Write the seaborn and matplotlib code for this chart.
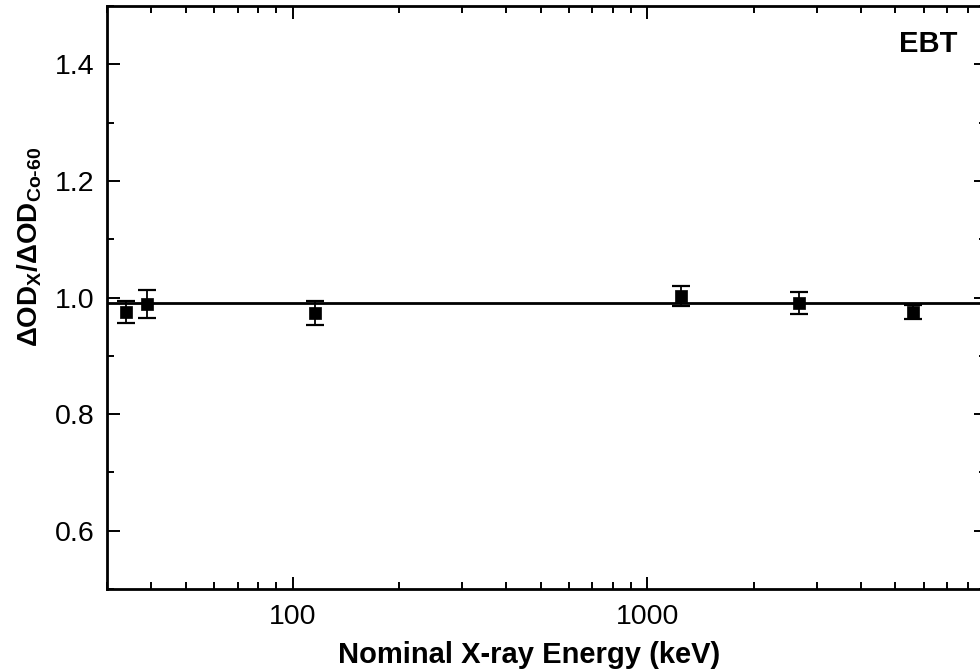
import numpy as np
import pandas as pd
import matplotlib
matplotlib.use("Agg")
import matplotlib.pyplot as plt
import matplotlib.ticker as mticker
import seaborn as sns

# Measured response of EBT film relative to Co-60
energy_kev = [34, 38.8, 116, 1242, 2670, 5600]
od_ratio = [0.975, 0.989, 0.973, 1.003, 0.990, 0.975]
od_err = [0.019, 0.024, 0.021, 0.017, 0.019, 0.012]
mean_ratio = 0.99

x_limits = (30, 9000)
y_limits = (0.5, 1.5)
y_major = [0.6, 0.8, 1.0, 1.2, 1.4]
x_major = [100, 1000]
x_major_labels = ["100", "1000"]

df = pd.DataFrame({"energy": energy_kev, "ratio": od_ratio, "err": od_err})

sns.set_theme(style="ticks")
plt.rcParams["font.family"] = ["Liberation Sans", "DejaVu Sans"]
plt.rcParams["text.color"] = "black"
plt.rcParams["mathtext.fontset"] = "custom"
plt.rcParams["mathtext.rm"] = "Liberation Sans:bold"
plt.rcParams["mathtext.it"] = "Liberation Sans:bold"
plt.rcParams["mathtext.bf"] = "Liberation Sans:bold"

fig = plt.figure(figsize=(9.8, 6.7), dpi=100)
ax = fig.add_axes([107 / 980, 81 / 670, 879 / 980, 583 / 670])

ax.set_xscale("log")
ax.axhline(mean_ratio, color="black", lw=2.0, zorder=2)
ax.errorbar(df["energy"], df["ratio"], yerr=df["err"], fmt="none",
            ecolor="black", elinewidth=1.3, capsize=6.5, capthick=1.6, zorder=3)
sns.scatterplot(data=df, x="energy", y="ratio", marker="s", s=85,
                color="black", edgecolor="black", linewidth=0.5, ax=ax, zorder=4)

ax.set_xlim(*x_limits)
ax.set_ylim(*y_limits)

ax.xaxis.set_major_locator(mticker.FixedLocator(x_major))
ax.xaxis.set_major_formatter(mticker.FixedFormatter(x_major_labels))
ax.xaxis.set_minor_locator(mticker.LogLocator(base=10, subs=np.arange(2, 10), numticks=20))
ax.xaxis.set_minor_formatter(mticker.NullFormatter())
ax.yaxis.set_major_locator(mticker.FixedLocator(y_major))
ax.yaxis.set_major_formatter(mticker.FormatStrFormatter("%.1f"))
ax.yaxis.set_minor_locator(mticker.MultipleLocator(0.1))

ax.tick_params(which="both", direction="in", top=True, right=True,
               colors="black", labelcolor="black", width=1.4)
ax.tick_params(which="major", length=9, labelsize=20.5)
ax.tick_params(axis="y", which="major", pad=9)
ax.tick_params(axis="x", which="major", pad=11)
ax.tick_params(which="minor", length=5)
for side in ax.spines.values():
    side.set_linewidth(2.0)
    side.set_color("black")

ax.set_xlabel("")
ax.set_ylabel("")
fig.text(529 / 980, 1 - 655 / 670, "Nominal X-ray Energy (keV)",
         ha="center", va="center", fontsize=21, fontweight="bold", color="black")
fig.text(30 / 980, 1 - 247 / 670,
         r"$\mathbf{\Delta OD_X/\Delta OD_{Co\text{-}60}}$",
         rotation=90, ha="center", va="center", fontsize=20, color="black")
ax.text(0.968, 0.935, "EBT", transform=ax.transAxes, ha="right", va="center",
        fontsize=21, fontweight="bold", color="black")

fig.savefig("out.png", dpi=100)
